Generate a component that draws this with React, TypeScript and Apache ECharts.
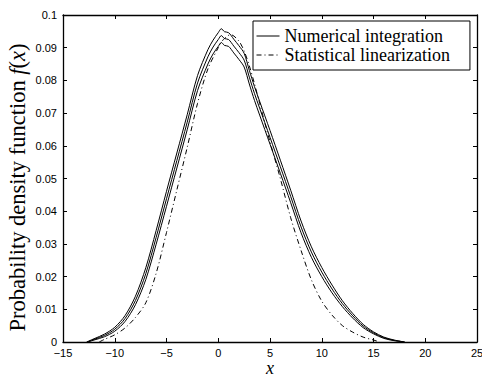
import React, { useEffect, useRef } from "react";
import * as echarts from "echarts";

// Numerical integration (three curves) sampled at these x values
const niX = [-12.7, -12.5, -12, -11, -10, -9, -8, -7, -6, -5, -4, -3, -2, -1, -0.5, 0, 0.3, 0.6, 1, 1.5, 2, 2.5, 3, 3.5, 4, 5, 6, 7, 8, 9, 10, 11, 12, 13, 14, 15, 16, 17, 18];
const niUpper = [0, 0.0003, 0.001, 0.0024, 0.0045, 0.0081, 0.014, 0.0227, 0.0341, 0.0461, 0.0578, 0.0695, 0.0815, 0.0894, 0.0923, 0.0946, 0.0958, 0.0949, 0.0946, 0.0926, 0.0906, 0.0883, 0.0831, 0.0781, 0.0736, 0.0647, 0.0556, 0.0464, 0.037, 0.0291, 0.0228, 0.0174, 0.0126, 0.0087, 0.0054, 0.0031, 0.0015, 0.0006, 0];
const niMiddle = [0, 0.0002, 0.0008, 0.002, 0.0039, 0.0072, 0.0127, 0.0209, 0.032, 0.0438, 0.0555, 0.0672, 0.0792, 0.0872, 0.0902, 0.0925, 0.0937, 0.0928, 0.0925, 0.0905, 0.0885, 0.0862, 0.081, 0.076, 0.0715, 0.0626, 0.0536, 0.0445, 0.0352, 0.0275, 0.0214, 0.0162, 0.0117, 0.008, 0.0049, 0.0028, 0.0013, 0.0005, 0];
const niLower = [0, 0.0001, 0.0006, 0.0016, 0.0033, 0.0063, 0.0114, 0.0191, 0.0299, 0.0415, 0.0532, 0.0649, 0.0769, 0.085, 0.0881, 0.0904, 0.0916, 0.0907, 0.0904, 0.0884, 0.0864, 0.0841, 0.0789, 0.0739, 0.0694, 0.0605, 0.0516, 0.0426, 0.0334, 0.0259, 0.02, 0.015, 0.0108, 0.0073, 0.0044, 0.0025, 0.0011, 0.0004, 0];

// Statistical linearization
const slX = [-11.5, -11, -10, -9, -8, -7, -6, -5, -4, -3, -2, -1, 0, 0.5, 1.2, 2, 2.5, 3, 3.5, 4, 4.5, 5, 6, 7, 8, 9, 10, 11, 12, 13, 14, 15, 15.6];
const slY = [0, 0.0008, 0.0022, 0.0043, 0.0075, 0.012, 0.021, 0.0335, 0.0465, 0.0595, 0.073, 0.0835, 0.09, 0.0925, 0.094, 0.092, 0.089, 0.0845, 0.079, 0.073, 0.067, 0.0612, 0.05, 0.038, 0.028, 0.019, 0.0125, 0.0082, 0.005, 0.003, 0.0015, 0.0006, 0];

const legendNames = ["Numerical integration", "Statistical linearization"];
const xMin = -15, xMax = 25, xStep = 5;
const yMin = 0, yMax = 0.1, yStep = 0.01;

const pairs = (xs: number[], ys: number[]) => xs.map((x, i) => [x, ys[i]]);

export default function App() {
  const ref = useRef<HTMLDivElement>(null);
  useEffect(() => {
    if (!ref.current) return;
    const chart = echarts.init(ref.current, null, { renderer: "svg" });
    const tickFont = { fontFamily: "Liberation Sans", fontSize: 11, color: "#000" };
    const axisLine = { show: true, onZero: false, lineStyle: { color: "#000", width: 1.3 } };
    const tick = { show: true, inside: true, length: 4, lineStyle: { color: "#000", width: 1 } };
    const niLine = { color: "#000", width: 1, type: "solid" as const };
    chart.setOption({
      animation: false,
      backgroundColor: "#fff",
      grid: { left: 63, right: 5, top: 15, bottom: 36, show: false, containLabel: false, outerBoundsMode: "none" },
      legend: {
        data: legendNames,
        orient: "vertical",
        left: 253,
        top: 21,
        backgroundColor: "#fff",
        borderColor: "#000",
        borderWidth: 1,
        borderRadius: 0,
        padding: [6, 20, 6, 3],
        itemGap: 1,
        itemWidth: 23,
        itemHeight: 16,
        itemStyle: { opacity: 0 },
        lineStyle: { width: 1 },
        textStyle: { fontFamily: "Liberation Serif", fontSize: 18, lineHeight: 16, color: "#000" },
        selectedMode: false,
      },
      xAxis: [
        {
          type: "value", min: xMin, max: xMax, interval: xStep,
          axisLine, axisTick: tick, splitLine: { show: false },
          axisLabel: { ...tickFont, margin: 5, lineHeight: 12, formatter: (v: number) => String(v).replace("-", "\u2212") },
          name: "x", nameLocation: "middle", nameGap: 17, nameMoveOverlap: false,
          nameTextStyle: { fontFamily: "Liberation Serif", fontStyle: "italic", fontSize: 18, lineHeight: 18, color: "#000" },
        },
        {
          type: "value", position: "top", min: xMin, max: xMax, interval: xStep,
          axisLine, axisTick: tick, axisLabel: { show: false }, splitLine: { show: false },
        },
      ],
      yAxis: [
        {
          type: "value", min: yMin, max: yMax, interval: yStep,
          axisLine, axisTick: tick, splitLine: { show: false },
          axisLabel: { ...tickFont, margin: 6 },
          name: "{n|Probability density function }{i|f}{n|(}{i|x}{n|)}{s|}",
          nameLocation: "middle", nameGap: 34, nameRotate: 90, nameMoveOverlap: false,
          nameTextStyle: {
            color: "#000",
            rich: {
              n: { fontFamily: "Liberation Serif", fontSize: 22.5, color: "#000" },
              i: { fontFamily: "Liberation Serif", fontSize: 22.5, fontStyle: "italic", color: "#000" },
              s: { width: 18, fontSize: 22.5 },
            },
          },
        },
        {
          type: "value", position: "right", min: yMin, max: yMax, interval: yStep,
          axisLine, axisTick: tick, axisLabel: { show: false }, splitLine: { show: false },
        },
      ],
      series: [
        { name: legendNames[0], type: "line", data: pairs(niX, niUpper), symbol: "none", smooth: 0.3, lineStyle: niLine, itemStyle: { color: "#000" } },
        { name: legendNames[0], type: "line", data: pairs(niX, niMiddle), symbol: "none", smooth: 0.3, lineStyle: niLine, itemStyle: { color: "#000" } },
        { name: legendNames[0], type: "line", data: pairs(niX, niLower), symbol: "none", smooth: 0.3, lineStyle: niLine, itemStyle: { color: "#000" } },
        {
          name: legendNames[1], type: "line", data: pairs(slX, slY), symbol: "none", smooth: 0.3,
          lineStyle: { color: "#000", width: 1, type: [5, 3, 1, 3] }, itemStyle: { color: "#000" },
        },
      ],
    });
    return () => chart.dispose();
  }, []);
  return <div ref={ref} style={{ position: "absolute", left: 0, top: 0, width: 482, height: 378 }} />;
}
